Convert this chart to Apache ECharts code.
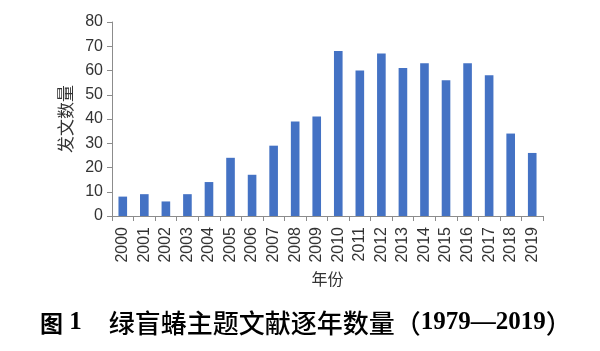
<!DOCTYPE html>
<html><head><meta charset="utf-8">
<script src="https://cdn.jsdelivr.net/npm/echarts@6/dist/echarts.min.js"></script>
<style>html,body{margin:0;padding:0;background:#fff}#c{width:600px;height:351px}</style>
</head><body><div id="c"></div>
<script>
const years = ['2000','2001','2002','2003','2004','2005','2006','2007','2008','2009','2010','2011','2012','2013','2014','2015','2016','2017','2018','2019'];
const counts = [8,9,6,9,14,24,17,29,39,41,68,60,67,61,63,56,63,58,34,26];
const yTicks = {min:0, max:80, interval:10};
const chart = echarts.init(document.getElementById('c'));
chart.setOption({
  animation:false,
  title:{
    text:'{b|图}{n| 1}{s| }{c|绿盲蝽主题文献逐年数量（}{n|1979—2019}{c|）}',
    left:35, top:305,
    textStyle:{
      rich:{
        b:{fontFamily:'Noto Sans CJK SC', fontWeight:'bold', fontSize:23, color:'#000'},
        s:{width:27, fontSize:23},
        c:{fontFamily:'Noto Sans CJK SC', fontWeight:500, fontSize:26, color:'#000'},
        n:{fontFamily:'Liberation Serif', fontWeight:'bold', fontSize:25, color:'#000'}
      }
    }
  },
  grid:{left:112, right:57, top:22, bottom:135},
  xAxis:{
    type:'category', data:years,
    name:'年份', nameLocation:'middle', nameGap:55,
    nameTextStyle:{fontFamily:'Noto Sans CJK SC', fontSize:16, color:'#333'},
    axisLine:{lineStyle:{color:'#8c8c8c'}},
    axisTick:{show:true, length:5, lineStyle:{color:'#8c8c8c'}},
    axisLabel:{rotate:90, interval:0, margin:11, fontFamily:'Liberation Sans', fontSize:16, color:'#333'}
  },
  yAxis:{
    type:'value', min:yTicks.min, max:yTicks.max, interval:yTicks.interval,
    name:'发文数量', nameLocation:'middle', nameGap:38, nameRotate:90,
    nameTextStyle:{fontFamily:'Noto Sans CJK SC', fontSize:17, color:'#333'},
    axisLine:{show:true, lineStyle:{color:'#8c8c8c'}},
    axisTick:{show:true, length:5, lineStyle:{color:'#8c8c8c'}},
    splitLine:{show:false},
    axisLabel:{margin:9, fontFamily:'Liberation Sans', fontSize:16, color:'#333'}
  },
  series:[{
    type:'bar', data:counts, barWidth:'40%',
    itemStyle:{color:'#4472C4'}
  }]
});
</script></body></html>
